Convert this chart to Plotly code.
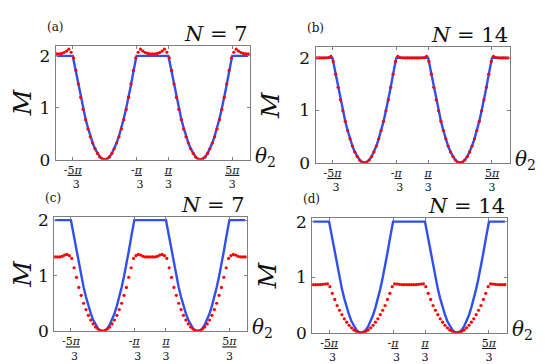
import plotly.graph_objects as go
from plotly.subplots import make_subplots

# === Data (theta in units of pi) ===
theta_dots = [-2.00, -1.95, -1.90, -1.85, -1.80, -1.75, -1.70, -1.65, -1.60, -1.55,
              -1.50, -1.45, -1.40, -1.35, -1.30, -1.25, -1.20, -1.15, -1.10, -1.05,
              -1.00, -0.95, -0.90, -0.85, -0.80, -0.75, -0.70, -0.65, -0.60, -0.55,
              -0.50, -0.45, -0.40, -0.35, -0.30, -0.25, -0.20, -0.15, -0.10, -0.05,
              0.00, 0.05, 0.10, 0.15, 0.20, 0.25, 0.30, 0.35, 0.40, 0.45,
              0.50, 0.55, 0.60, 0.65, 0.70, 0.75, 0.80, 0.85, 0.90, 0.95,
              1.00, 1.05, 1.10, 1.15, 1.20, 1.25, 1.30, 1.35, 1.40, 1.45,
              1.50, 1.55, 1.60, 1.65, 1.70, 1.75, 1.80, 1.85, 1.90, 1.95, 2.00]

theta_line = [-2.00, -1.95, -1.90, -1.85, -1.80, -1.75, -1.70, -1.6667, -1.65, -1.60, -1.55,
              -1.50, -1.45, -1.40, -1.35, -1.30, -1.25, -1.20, -1.15, -1.10, -1.05,
              -1.00, -0.95, -0.90, -0.85, -0.80, -0.75, -0.70, -0.65, -0.60, -0.55,
              -0.50, -0.45, -0.40, -0.35, -0.3333, -0.30, -0.25, -0.20, -0.15, -0.10, -0.05,
              0.00, 0.05, 0.10, 0.15, 0.20, 0.25, 0.30, 0.3333, 0.35, 0.40, 0.45,
              0.50, 0.55, 0.60, 0.65, 0.70, 0.75, 0.80, 0.85, 0.90, 0.95,
              1.00, 1.05, 1.10, 1.15, 1.20, 1.25, 1.30, 1.35, 1.40, 1.45,
              1.50, 1.55, 1.60, 1.65, 1.6667, 1.70, 1.75, 1.80, 1.85, 1.90, 1.95, 2.00]

M_line = [2, 2, 2, 2, 2, 2, 2, 2,
          1.92, 1.69, 1.44, 1.20, 0.99, 0.79, 0.615, 0.456, 0.32, 0.206, 0.117, 0.052, 0.013,
          0,
          0.013, 0.052, 0.117, 0.206, 0.32, 0.456, 0.615, 0.79, 0.99, 1.20, 1.44, 1.69, 1.92,
          2, 2, 2, 2, 2, 2, 2, 2, 2, 2, 2, 2, 2, 2, 2,
          1.92, 1.69, 1.44, 1.20, 0.99, 0.79, 0.615, 0.456, 0.32, 0.206, 0.117, 0.052, 0.013,
          0,
          0.013, 0.052, 0.117, 0.206, 0.32, 0.456, 0.615, 0.79, 0.99, 1.20, 1.44, 1.69, 1.92,
          2, 2, 2, 2, 2, 2, 2, 2]

M_a = [2.04, 2.04, 2.047, 2.065, 2.09, 2.13, 2.07,
       1.96, 1.72, 1.46, 1.20, 0.97, 0.77, 0.59, 0.44, 0.32, 0.21, 0.12, 0.052, 0.014,
       0,
       0.014, 0.052, 0.12, 0.21, 0.32, 0.44, 0.59, 0.77, 0.97, 1.20, 1.46, 1.72, 1.96,
       2.07, 2.13, 2.09, 2.065, 2.047, 2.04, 2.04, 2.04, 2.047, 2.065, 2.09, 2.13, 2.07,
       1.96, 1.72, 1.46, 1.20, 0.97, 0.77, 0.59, 0.44, 0.32, 0.21, 0.12, 0.052, 0.014,
       0,
       0.014, 0.052, 0.12, 0.21, 0.32, 0.44, 0.59, 0.77, 0.97, 1.20, 1.46, 1.72, 1.96,
       2.07, 2.13, 2.09, 2.065, 2.047, 2.04, 2.04]

M_b = [2.0, 2.0, 2.0, 2.0, 2.003, 2.008, 2.03,
       1.93, 1.69, 1.44, 1.20, 0.99, 0.79, 0.615, 0.456, 0.32, 0.206, 0.117, 0.052, 0.013,
       0,
       0.013, 0.052, 0.117, 0.206, 0.32, 0.456, 0.615, 0.79, 0.99, 1.20, 1.44, 1.69, 1.93,
       2.03, 2.008, 2.003, 2.0, 2.0, 2.0, 2.0, 2.0, 2.0, 2.0, 2.003, 2.008, 2.03,
       1.93, 1.69, 1.44, 1.20, 0.99, 0.79, 0.615, 0.456, 0.32, 0.206, 0.117, 0.052, 0.013,
       0,
       0.013, 0.052, 0.117, 0.206, 0.32, 0.456, 0.615, 0.79, 0.99, 1.20, 1.44, 1.69, 1.93,
       2.03, 2.008, 2.003, 2.0, 2.0, 2.0, 2.0]

M_c = [1.337, 1.337, 1.337, 1.349, 1.371, 1.383, 1.36,
       1.31, 1.143, 0.971, 0.789, 0.646, 0.503, 0.389, 0.286, 0.20, 0.131, 0.074, 0.04, 0.011,
       0,
       0.011, 0.04, 0.074, 0.131, 0.20, 0.286, 0.389, 0.503, 0.646, 0.789, 0.971, 1.143, 1.31,
       1.36, 1.383, 1.371, 1.349, 1.337, 1.337, 1.337, 1.337, 1.337, 1.349, 1.371, 1.383, 1.36,
       1.31, 1.143, 0.971, 0.789, 0.646, 0.503, 0.389, 0.286, 0.20, 0.131, 0.074, 0.04, 0.011,
       0,
       0.011, 0.04, 0.074, 0.131, 0.20, 0.286, 0.389, 0.503, 0.646, 0.789, 0.971, 1.143, 1.31,
       1.36, 1.383, 1.371, 1.349, 1.337, 1.337, 1.337]

M_d = [0.866, 0.866, 0.866, 0.868, 0.872, 0.878, 0.88,
       0.83, 0.71, 0.60, 0.49, 0.405, 0.325, 0.25, 0.19, 0.135, 0.09, 0.05, 0.025, 0.006,
       0,
       0.006, 0.025, 0.05, 0.09, 0.135, 0.19, 0.25, 0.325, 0.405, 0.49, 0.60, 0.71, 0.83,
       0.88, 0.878, 0.872, 0.868, 0.866, 0.866, 0.866, 0.866, 0.866, 0.868, 0.872, 0.878, 0.88,
       0.83, 0.71, 0.60, 0.49, 0.405, 0.325, 0.25, 0.19, 0.135, 0.09, 0.05, 0.025, 0.006,
       0,
       0.006, 0.025, 0.05, 0.09, 0.135, 0.19, 0.25, 0.325, 0.405, 0.49, 0.60, 0.71, 0.83,
       0.88, 0.878, 0.872, 0.868, 0.866, 0.866, 0.866]

x_tickvals = [-5/3, -1/3, 1/3, 5/3]
x_ticktext = ["-<u>5<i>π</i></u><br>&nbsp;&nbsp;3", "-<u><i>π</i></u><br>&nbsp;&nbsp;3",
              "<u><i>π</i></u><br>3", "<u>5<i>π</i></u><br>3"]
y_tickvals = [0, 1, 2]

panels = [
    # label, N, dots, x-domain px, y-domain px (top, bottom), y max
    ("(a)", "7", M_a, (46, 241), (32, 151.7), 2.2),
    ("(b)", "14", M_b, (306.7, 501.7), (34, 155), 2.2),
    ("(c)", "7", M_c, (44.3, 238), (211.7, 331.7), 2.06),
    ("(d)", "14", M_d, (303.3, 498.7), (213.3, 333.3), 2.06),
]

W, H = 545, 364
serif = "DejaVu Serif"
blue = "#2f4ff0"
axis_grey = "#7f7f7f"

fig = make_subplots(rows=2, cols=2)
layout = {}
annotations = []
for i, (lab, n, dots, xd, yd, ymax) in enumerate(panels):
    r, c = i // 2 + 1, i % 2 + 1
    fig.add_trace(go.Scatter(x=theta_line, y=M_line, mode="lines",
                             line=dict(color=blue, width=2.4), showlegend=False), row=r, col=c)
    fig.add_trace(go.Scatter(x=theta_dots, y=dots, mode="markers",
                             marker=dict(color="#ff0000", size=3.2, line=dict(width=0)),
                             showlegend=False), row=r, col=c)
    sfx = "" if i == 0 else str(i + 1)
    layout["xaxis" + sfx] = dict(
        domain=[xd[0] / W, xd[1] / W], range=[-2.02, 2.04],
        tickvals=x_tickvals, ticktext=x_ticktext, ticks="inside", ticklen=3,
        tickcolor=axis_grey, showline=True, linecolor=axis_grey, linewidth=1, mirror="ticks",
        showgrid=False, zeroline=False, ticklabelstandoff=0,
        tickfont=dict(family=serif, size=11, color="#111"),
    )
    layout["yaxis" + sfx] = dict(
        domain=[1 - yd[1] / H, 1 - yd[0] / H], range=[0, ymax],
        tickvals=y_tickvals, ticks="inside", ticklen=3,
        tickcolor=axis_grey, showline=True, linecolor=axis_grey, linewidth=1, mirror="ticks",
        showgrid=False, zeroline=False, ticklabelstandoff=1,
        tickfont=dict(family=serif, size=17, color="#111"),
        title=dict(text="<i>M</i>", font=dict(family=serif, size=25, color="#111"), standoff=12),
    )
    xref = "x" + sfx + " domain"
    yref = "y" + sfx + " domain"
    annotations.append(dict(x=0, y=1, xref=xref, yref=yref, xshift=-11, yshift=10,
                            text=lab, showarrow=False, xanchor="left", yanchor="bottom",
                            font=dict(family=serif, size=12, color="#111")))
    annotations.append(dict(x=1, y=1, xref=xref, yref=yref, yshift=-2,
                            text="<i>N</i> = " + n, showarrow=False, xanchor="right",
                            yanchor="bottom", font=dict(family=serif, size=21, color="#111")))
    annotations.append(dict(x=1, y=0, xref=xref, yref=yref, xshift=3, yshift=3,
                            text="<i>θ</i><sub>2</sub>", showarrow=False, xanchor="left",
                            yanchor="middle", font=dict(family=serif, size=20, color="#111")))

fig.update_layout(**layout)
fig.update_layout(
    width=W, height=H, margin=dict(l=0, r=0, t=0, b=0),
    plot_bgcolor="white", paper_bgcolor="white",
    annotations=annotations,
)

fig.write_html("out.html")
